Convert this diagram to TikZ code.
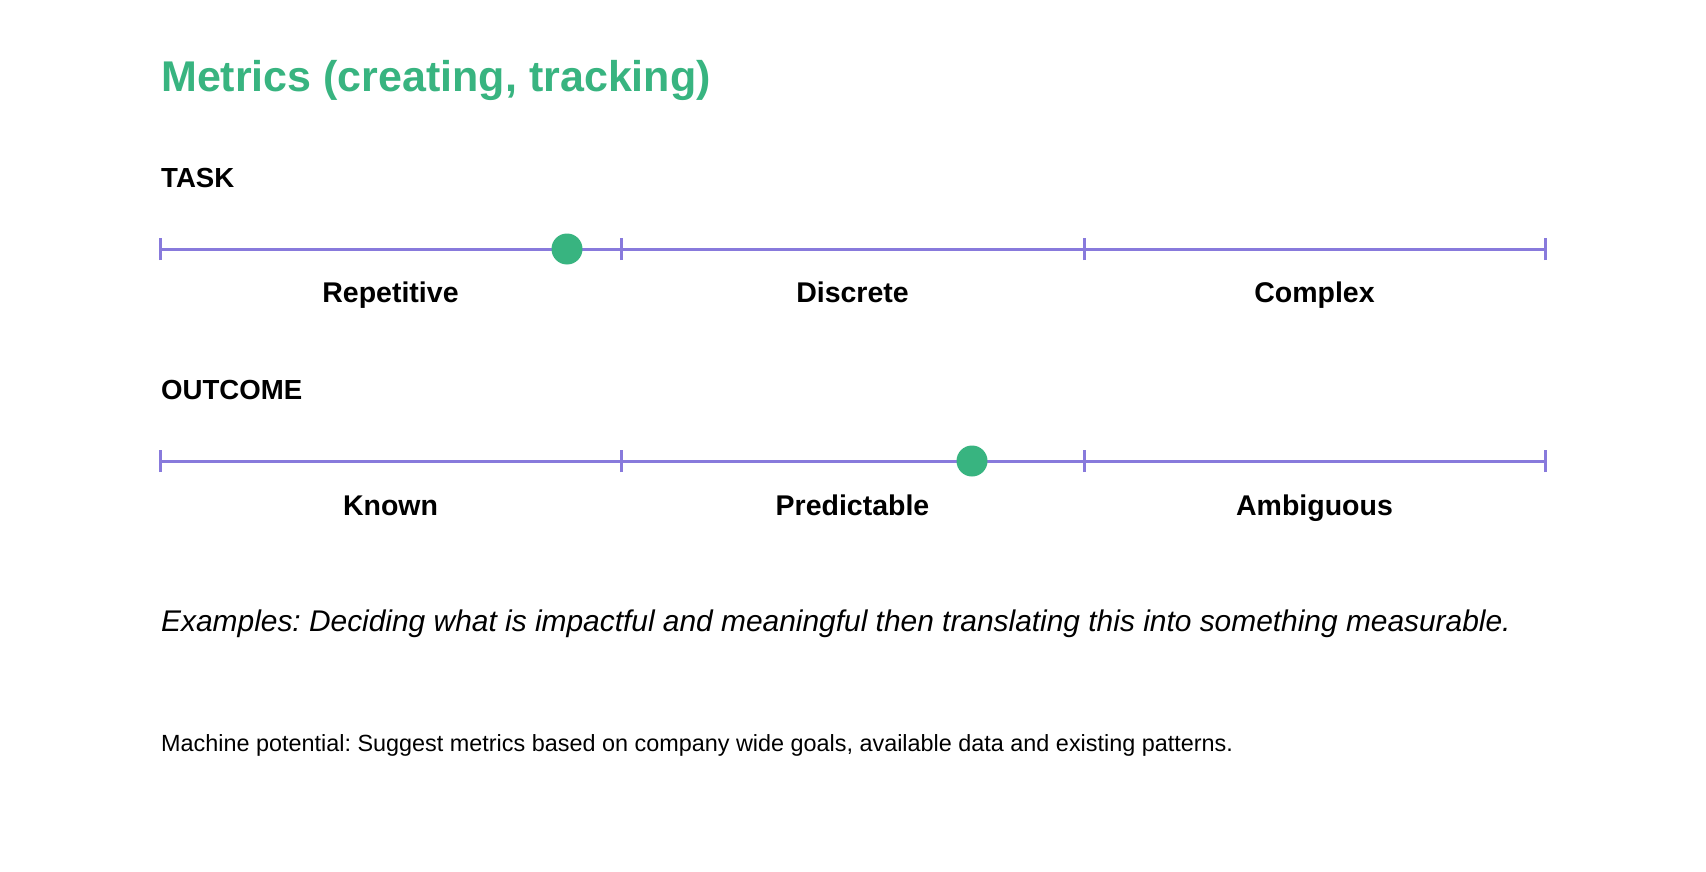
\documentclass[tikz,border=0pt]{standalone}
\usepackage{fontspec}
\setmainfont{Liberation Sans}
\frenchspacing
\definecolor{mgreen}{RGB}{56,180,128}
\definecolor{mpurple}{RGB}{136,122,220}
\tikzset{
  scaleline/.style={draw=mpurple, line width=3pt},
  tickmark/.style={draw=mpurple, line width=3pt},
  dot/.style={circle, fill=mgreen, minimum size=31pt, inner sep=0pt},
  heading/.style={anchor=base west, inner sep=0pt, font=\fontsize{27.6}{32}\selectfont\bfseries},
  seglabel/.style={anchor=base, inner sep=0pt, font=\fontsize{28.5}{32}\selectfont\bfseries},
}
\begin{document}
\begin{tikzpicture}[x=1pt,y=-1pt]
\useasboundingbox (0,0) rectangle (1706,872);
\fill[white] (0,0) rectangle (1706,872);
% title
\node[anchor=base west, inner sep=0pt, text=mgreen, font=\fontsize{43}{48}\selectfont\bfseries] (title) at (161,92) {Metrics (creating, tracking)};
% TASK scale
\node[heading] (task) at (161,187) {TASK};
\coordinate (a0) at (160,249);
\coordinate (a1) at (621,249);
\coordinate (a2) at (1084,249);
\coordinate (a3) at (1545,249);
\draw[scaleline] (a0) -- (a1) -- (a2) -- (a3);
\foreach \p in {a0,a1,a2,a3} \draw[tickmark] ([yshift=-11pt]\p) -- ([yshift=11pt]\p);
\node[dot] (taskdot) at (567,249) {};
\node[seglabel] (rep) at (390.5,302) {Repetitive};
\node[seglabel] (dis) at (852.5,302) {Discrete};
\node[seglabel] (com) at (1314.5,302) {Complex};
% OUTCOME scale
\node[heading] (outcome) at (161,399) {OUTCOME};
\coordinate (b0) at (160,461);
\coordinate (b1) at (621,461);
\coordinate (b2) at (1084,461);
\coordinate (b3) at (1545,461);
\draw[scaleline] (b0) -- (b1) -- (b2) -- (b3);
\foreach \p in {b0,b1,b2,b3} \draw[tickmark] ([yshift=-11pt]\p) -- ([yshift=11pt]\p);
\node[dot] (outdot) at (972,461) {};
\node[seglabel] (kno) at (390.5,515) {Known};
\node[seglabel] (pre) at (852.5,515) {Predictable};
\node[seglabel] (amb) at (1314.5,515) {Ambiguous};
% texts
\node[anchor=base west, inner sep=0pt, font=\fontsize{29.9}{34}\selectfont\itshape] (ex) at (161,631) {Examples: Deciding what is impactful and meaningful then translating this into something measurable.};
\node[anchor=base west, inner sep=0pt, font=\fontsize{23.4}{27}\selectfont] (mp) at (161,751) {Machine potential: Suggest metrics based on company wide goals, available data and existing patterns.};
\end{tikzpicture}
\end{document}
